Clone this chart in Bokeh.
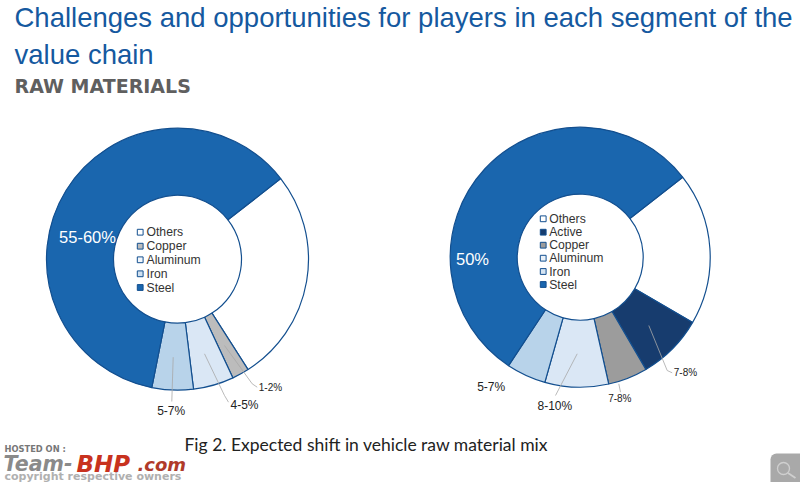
from math import radians, pi
from bokeh.plotting import figure
from bokeh.core.properties import value
from bokeh.embed import file_html
from bokeh.resources import INLINE

W, H = 800, 482

# --- data -------------------------------------------------------------
title_lines = ["Challenges and opportunities for players in each segment of the", "value chain"]
subtitle = "RAW MATERIALS"
caption = "Fig 2. Expected shift in vehicle raw material mix"

left_names = ["Others", "Copper", "Aluminum", "Iron", "Steel"]
left_shares = [26.5, 2.1, 5.0, 5.1, 61.3]
left_labels = ["", "1-2%", "4-5%", "5-7%", "55-60%"]

right_names = ["Others", "Active", "Copper", "Aluminum", "Iron", "Steel"]
right_shares = [18.9, 8.2, 4.9, 7.9, 4.9, 55.1]
right_labels = ["", "7-8%", "7-8%", "8-10%", "5-7%", "50%"]

# --- style / layout ---------------------------------------------------
BLUE, ICE, PALE, GREY, DGREY, NAVY = "#1a66ae", "#b8d3ea", "#dae7f5", "#bcbcbc", "#9c9c9c", "#173c6e"
EDGE = "#134f8f"
left_colors = ["#ffffff", GREY, PALE, ICE, BLUE]
right_colors = ["#ffffff", NAVY, DGREY, PALE, ICE, BLUE]
left_sw = ["#ffffff", GREY, "#f2f6fb", "#cfe0f0", BLUE]
right_sw = ["#ffffff", NAVY, DGREY, "#eaf1f8", "#d5e4f2", BLUE]
START_DEG = 52

p = figure(width=W, height=H, x_range=(0, W), y_range=(0, H), output_backend="svg",
           toolbar_location=None, min_border=0, outline_line_color=None,
           background_fill_color="white", border_fill_color="white")
p.axis.visible = False
p.grid.visible = False
Y = lambda y: H - y


def txt(x, y, s, size, color="#222222", font="Liberation Sans", align="left", style="normal"):
    p.text([x], [Y(y)], text=[s], text_font=value(font), text_font_size=f"{size}px", text_color=color,
           text_align=align, text_baseline="middle", text_font_style=style)


def donut(cx, cy, ro, ri, shares, colors):
    total = sum(shares)
    a = radians(START_DEG)
    starts, ends = [], []
    for s in shares:
        b = a + 2 * pi * s / total
        starts.append(pi / 2 - a)
        ends.append(pi / 2 - b)
        a = b
    p.annular_wedge([cx] * len(shares), [Y(cy)] * len(shares), inner_radius=ri, outer_radius=ro,
                    start_angle=starts, end_angle=ends, direction="clock",
                    fill_color=colors, line_color=EDGE, line_width=1.2)


def leader(xs, ys):
    p.line(xs, [Y(v) for v in ys], line_color="#a8a8a8", line_width=0.8)


def legend(x, ys, names, fills, tx):
    p.rect([x] * len(ys), [Y(v) for v in ys], width=5.8, height=5.8, fill_color=fills,
           line_color=EDGE, line_width=1)
    for n, yy in zip(names, ys):
        txt(tx, yy, n, 12.2, "#333333")


# title
txt(14, 17, title_lines[0], 27.5, "#15599f")
txt(14, 54, title_lines[1], 27.5, "#15599f")
txt(14, 85, subtitle, 19, "#5f5f5f", font="DejaVu Sans", style="bold")

# left donut
donut(177, 258.7, 131, 64, left_shares, left_colors)
leader([172.7, 171.3], [356.7, 401])
leader([204, 224, 228], [353.3, 395, 401.7])
leader([224, 251.7, 256.7], [345, 383.3, 386.7])
txt(87, 236.5, left_labels[4], 16.5, "white", align="center")
txt(170.7, 410, left_labels[3], 12, align="center")
txt(230, 404, left_labels[2], 12)
txt(258.3, 387.3, left_labels[1], 10)
legend(139.7, [231.7, 245.7, 259.3, 273.3, 287], left_names, left_sw, 146)

# right donut
donut(579.7, 256.7, 130, 63, right_shares, right_colors)
leader([648.3, 666.7, 671.7], [325, 370, 372.3])
leader([618.3, 620], [383.3, 391.7])
leader([576.7, 555], [353.3, 395])
txt(472, 258, right_labels[5], 16.5, "white", align="center")
txt(490.7, 386, right_labels[4], 12, align="center")
txt(554.3, 405, right_labels[3], 12, align="center")
txt(619.3, 397.7, right_labels[2], 10, align="center")
txt(673.3, 372.3, right_labels[1], 10)
legend(542.7, [218.3, 231.7, 244.7, 257.7, 271, 284], right_names, right_sw, 548.7)

# caption
txt(184, 444, caption, 17.5, "#222222", font="Lato")

# watermark
txt(4, 448, "HOSTED ON :", 8.3, "#777777", font="DejaVu Sans", style="bold")
txt(3, 463, "Team-", 20.5, "#8a8a8a", font="DejaVu Sans", style="bold italic")
txt(76, 463, "BHP", 23, "#c8321e", font="DejaVu Sans", style="bold italic")
txt(137, 464, ".com", 18, "#b03a2a", font="DejaVu Sans", style="bold italic")
txt(4, 476, "copyright respective owners", 11, "#b0b0b0", font="DejaVu Sans", style="bold")

# magnifier badge
p.quad(left=[770], right=[800], bottom=[0], top=[Y(453)], fill_color="#a9a9a9", line_color=None,
       border_radius=[6, 0, 0, 0])
p.scatter([783], [Y(468)], size=12, marker="circle", fill_color=None, line_color="#cfcfcf", line_width=1.3)
p.line([787.5, 795], [Y(472.5), Y(477.5)], line_color="#cfcfcf", line_width=1.8)

open("out.html", "w").write(file_html(p, INLINE))
